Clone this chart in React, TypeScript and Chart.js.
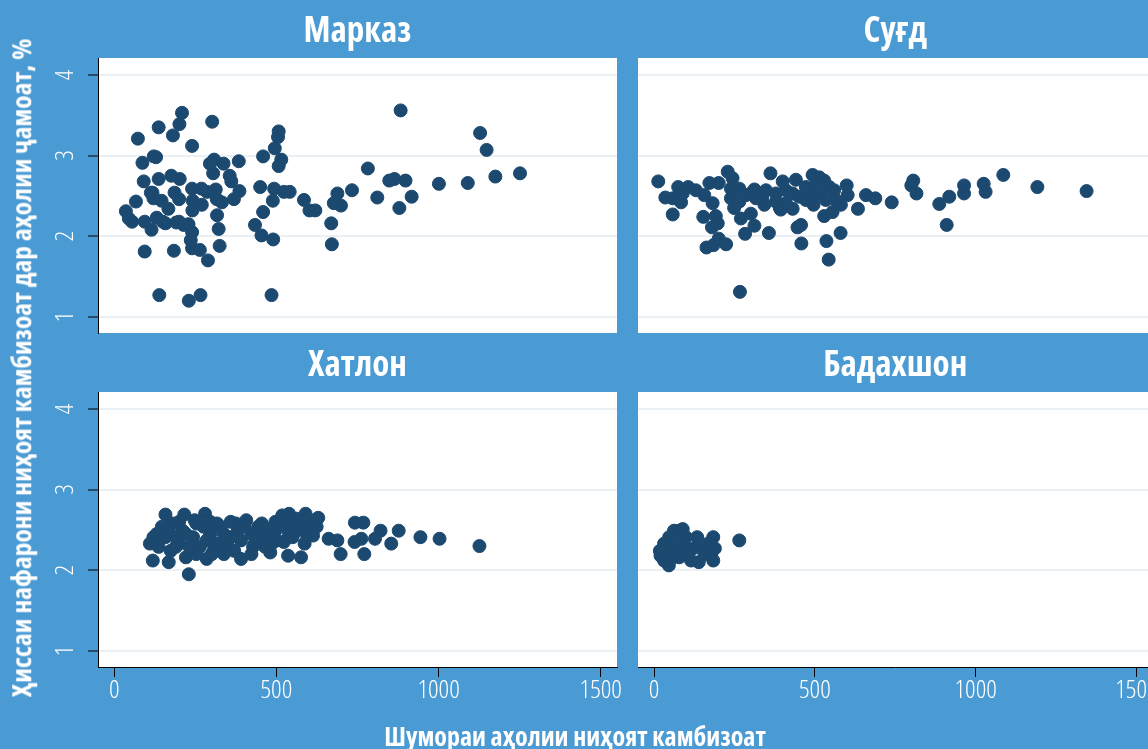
import React, { useEffect, useRef } from 'react';
import { Chart, registerables } from 'chart.js';

Chart.register(...registerables);

// ---------- data ----------
const panelTitles = ['Марказ', 'Суғд', 'Хатлон', 'Бадахшон'];
const xAxisTitle = 'Шумораи аҳолии ниҳоят камбизоат';
const yAxisTitle = 'Ҳиссаи нафарони ниҳоят камбизоат дар аҳолии ҷамоат, %';
const xTickValues = [0, 500, 1000, 1500];
const yTickValues = [1, 2, 3, 4];

const markazX = [883, 1128, 1148, 1175, 1251, 1090, 1001, 917, 879, 848, 864, 898, 811, 782, 733, 688, 699, 677, 669, 671, 585, 602, 620, 541, 523, 507, 505, 495, 515, 507, 459, 493, 489, 450, 459, 434, 454, 490, 485, 384, 337, 302, 308, 295, 305, 356, 361, 386, 369, 332, 313, 316, 317, 322, 325, 289, 266, 230, 139, 94, 184, 240, 264, 240, 236, 229, 191, 158, 131, 115, 94, 55, 45, 36, 67, 73, 137, 201, 209, 181, 240, 87, 122, 129, 91, 137, 176, 202, 118, 121, 146, 167, 186, 200, 240, 242, 241, 270, 269, 286, 150, 200, 214, 113];
const markazY = [3.56, 3.28, 3.07, 2.74, 2.78, 2.66, 2.65, 2.49, 2.35, 2.69, 2.71, 2.69, 2.48, 2.84, 2.57, 2.53, 2.38, 2.41, 2.16, 1.9, 2.45, 2.32, 2.32, 2.55, 2.55, 3.3, 3.23, 3.09, 2.95, 2.87, 2.99, 2.59, 2.44, 2.61, 2.3, 2.14, 2.01, 1.96, 1.27, 2.93, 2.9, 3.42, 2.95, 2.9, 2.78, 2.75, 2.68, 2.56, 2.46, 2.42, 2.58, 2.46, 2.26, 2.09, 1.88, 1.7, 1.27, 1.2, 1.27, 1.81, 1.82, 1.85, 1.83, 2.05, 1.95, 2.15, 2.17, 2.16, 2.23, 2.08, 2.18, 2.18, 2.22, 2.31, 2.43, 3.21, 3.35, 3.39, 3.53, 3.25, 3.12, 2.91, 2.99, 2.98, 2.68, 2.71, 2.75, 2.71, 2.54, 2.47, 2.44, 2.34, 2.54, 2.46, 2.59, 2.44, 2.32, 2.39, 2.59, 2.55, 2.18, 2.18, 2.14, 2.54];

const sughdX = [13, 35, 58, 75, 84, 106, 58, 130, 156, 172, 201, 182, 153, 192, 180, 198, 201, 163, 185, 224, 229, 244, 239, 239, 249, 265, 270, 301, 312, 283, 267, 286, 312, 317, 343, 348, 362, 357, 379, 391, 400, 410, 431, 441, 451, 446, 457, 458, 472, 493, 496, 503, 514, 529, 534, 529, 555, 560, 581, 599, 602, 580, 536, 543, 634, 659, 688, 739, 806, 800, 816, 887, 918, 910, 964, 964, 1025, 1031, 1086, 1192, 1345, 337, 379, 431, 472, 514, 545, 410, 265, 89, 301, 394, 488, 565];
const sughdY = [2.68, 2.48, 2.27, 2.61, 2.42, 2.61, 2.47, 2.57, 2.51, 2.66, 2.66, 2.41, 2.24, 2.25, 2.11, 2.16, 1.97, 1.86, 1.89, 1.9, 2.8, 2.72, 2.59, 2.47, 2.35, 2.59, 2.22, 2.28, 2.13, 2.03, 1.31, 2.51, 2.58, 2.47, 2.39, 2.57, 2.78, 2.04, 2.53, 2.35, 2.68, 2.57, 2.34, 2.7, 2.49, 2.11, 2.14, 1.91, 2.45, 2.76, 2.39, 2.63, 2.53, 2.69, 2.45, 2.25, 2.3, 2.57, 2.39, 2.63, 2.51, 2.04, 1.94, 1.71, 2.34, 2.51, 2.47, 2.42, 2.69, 2.63, 2.53, 2.4, 2.49, 2.14, 2.63, 2.53, 2.65, 2.55, 2.76, 2.61, 2.56, 2.49, 2.43, 2.53, 2.61, 2.73, 2.61, 2.41, 2.43, 2.53, 2.53, 2.33, 2.49, 2.45];

const khatlonX = [1126, 1003, 944, 877, 854, 821, 804, 771, 768, 742, 762, 741, 698, 688, 661, 629, 590, 624, 613, 576, 536, 587, 561, 539, 523, 539, 497, 481, 465, 444, 423, 391, 407, 359, 338, 317, 285, 280, 216, 158, 119, 168, 230, 110, 131, 221, 497, 465, 158, 179, 200, 211, 243, 253, 264, 296, 317, 338, 349, 381, 391, 423, 433, 444, 147, 190, 232, 275, 306, 370, 137, 174, 248, 470, 502, 561, 582, 603, 529, 550, 402, 359, 285, 221, 168, 121, 190, 327, 455, 518, 539, 592, 619, 486, 375, 296, 200, 253, 428, 301];
const khatlonY = [2.3, 2.39, 2.41, 2.49, 2.33, 2.49, 2.39, 2.2, 2.59, 2.59, 2.39, 2.35, 2.2, 2.37, 2.39, 2.65, 2.7, 2.54, 2.43, 2.16, 2.18, 2.33, 2.64, 2.62, 2.35, 2.45, 2.6, 2.22, 2.41, 2.54, 2.2, 2.14, 2.62, 2.6, 2.2, 2.58, 2.14, 2.7, 2.69, 2.69, 2.12, 2.1, 1.95, 2.33, 2.45, 2.16, 2.49, 2.29, 2.41, 2.58, 2.33, 2.49, 2.41, 2.58, 2.29, 2.45, 2.33, 2.45, 2.33, 2.49, 2.37, 2.45, 2.33, 2.41, 2.54, 2.29, 2.29, 2.54, 2.24, 2.24, 2.29, 2.24, 2.62, 2.51, 2.37, 2.49, 2.58, 2.54, 2.54, 2.41, 2.54, 2.41, 2.37, 2.45, 2.49, 2.41, 2.41, 2.54, 2.58, 2.68, 2.7, 2.45, 2.62, 2.33, 2.58, 2.6, 2.6, 2.2, 2.29, 2.2];

const badakhshonX = [265, 184, 184, 189, 134, 139, 115, 121, 78, 62, 47, 78, 46, 31, 18, 41, 89, 68, 99, 157, 168, 31, 57, 104, 141, 52, 89, 20, 73, 178];
const badakhshonY = [2.37, 2.41, 2.12, 2.27, 2.41, 2.1, 2.12, 2.27, 2.49, 2.49, 2.41, 2.16, 2.06, 2.12, 2.24, 2.29, 2.33, 2.22, 2.41, 2.2, 2.33, 2.33, 2.37, 2.2, 2.29, 2.14, 2.51, 2.18, 2.29, 2.2];

const seriesX = [markazX, sughdX, khatlonX, badakhshonX];
const seriesY = [markazY, sughdY, khatlonY, badakhshonY];

// ---------- style / layout ----------
const W = 1160;
const H = 749;
const BG = '#4a9ad4';
const DOT = '#1c4970';
const GRID = '#eaf0f4';
const FAMILY = "'Open Sans', 'DejaVu Sans', sans-serif";

type Panel = { left: boolean; bottom: boolean; pad: { left: number; top: number; right: number; bottom: number } };
const panels: Panel[] = [
  { left: true, bottom: false, pad: { left: 0, top: 0, right: W - 617, bottom: H - 333 } },
  { left: false, bottom: false, pad: { left: 638, top: 0, right: W - 1157, bottom: H - 333 } },
  { left: true, bottom: true, pad: { left: 0, top: 334, right: W - 617, bottom: H - 667 - 40 } },
  { left: false, bottom: true, pad: { left: 638, top: 334, right: W - 1157, bottom: H - 667 - 40 } },
];

const whiteArea = {
  id: 'whiteArea',
  beforeDraw(chart: any) {
    const { ctx, chartArea: a } = chart;
    ctx.save();
    ctx.fillStyle = '#ffffff';
    ctx.fillRect(a.left, a.top, a.right - a.left, a.bottom - a.top);
    ctx.restore();
  },
};

function makeChart(canvas: HTMLCanvasElement, i: number) {
  const p = panels[i];
  const data = seriesX[i].map((x, k) => ({ x, y: seriesY[i][k] }));
  return new Chart(canvas, {
    type: 'scatter',
    data: {
      datasets: [
        {
          data,
          backgroundColor: DOT,
          borderColor: DOT,
          borderWidth: 1,
          pointRadius: 6.5,
          pointHoverRadius: 6.5,
        },
      ],
    },
    plugins: [whiteArea],
    options: {
      responsive: false,
      animation: false,
      devicePixelRatio: 1,
      events: [],
      layout: { padding: p.pad },
      plugins: {
        legend: { display: false },
        tooltip: { enabled: false },
        title: {
          display: true,
          text: panelTitles[i],
          fullSize: false,
          color: '#ffffff',
          font: { family: FAMILY, size: 35, weight: 'bold condensed', lineHeight: 1.2 },
          padding: { top: 11, bottom: 5 },
        },
      },
      scales: {
        x: {
          type: 'linear',
          min: -50,
          max: 1550,
          display: p.bottom,
          afterBuildTicks: (s: any) => {
            s.ticks = xTickValues.map((v) => ({ value: v }));
          },
          afterFit: (s: any) => {
            s.height = p.bottom ? 40 : 0;
          },
          grid: { display: true, drawOnChartArea: false, drawTicks: true, tickLength: 10, tickColor: '#000000', tickWidth: 1 },
          border: { display: true, color: '#000000', width: 1 },
          ticks: {
            color: '#ffffff',
            padding: 1,
            maxRotation: 0,
            minRotation: 0,
            callback: (v: any) => String(v),
            font: { family: FAMILY, size: 26, weight: '300 condensed', lineHeight: 1 },
          },
        },
        y: {
          type: 'linear',
          min: 0.8,
          max: 4.21,
          display: true,
          afterBuildTicks: (s: any) => {
            s.ticks = yTickValues.map((v) => ({ value: v }));
          },
          afterFit: (s: any) => {
            s.width = p.left ? 98 : 0;
          },
          grid: {
            display: true,
            drawOnChartArea: true,
            color: GRID,
            lineWidth: 2,
            drawTicks: p.left,
            tickLength: 10,
            tickColor: '#000000',
            tickWidth: 1,
          },
          border: { display: p.left, color: '#000000', width: 1 },
          ticks: {
            display: p.left,
            color: '#ffffff',
            minRotation: 90,
            maxRotation: 90,
            crossAlign: 'center',
            padding: 17,
            callback: (v: any) => String(v),
            font: { family: FAMILY, size: 26, weight: '300 condensed', lineHeight: 1 },
          },
        },
      },
    } as any,
  });
}

export default function App() {
  const refs = [useRef<HTMLCanvasElement>(null), useRef<HTMLCanvasElement>(null), useRef<HTMLCanvasElement>(null), useRef<HTMLCanvasElement>(null)];

  useEffect(() => {
    const charts = refs.map((r, i) => (r.current ? makeChart(r.current, i) : null));
    return () => {
      charts.forEach((c) => c && c.destroy());
    };
  }, []);

  const titleStyle: React.CSSProperties = {
    position: 'absolute',
    color: '#ffffff',
    fontFamily: FAMILY,
    fontWeight: 700,
    fontStretch: 'condensed',
    whiteSpace: 'nowrap',
    lineHeight: 1,
  };

  return (
    <div
      style={{
        position: 'fixed',
        left: 0,
        top: 0,
        width: 1148,
        height: 749,
        overflow: 'hidden',
        background: BG,
      }}
    >
      {refs.map((r, i) => (
        <canvas
          key={i}
          ref={r}
          width={W}
          height={H}
          style={{ position: 'absolute', left: 0, top: 0, width: W, height: H }}
        />
      ))}
      <div style={{ ...titleStyle, fontSize: 26, left: 575, top: 736, transform: 'translate(-50%, -50%)' }}>{xAxisTitle}</div>
      <div style={{ ...titleStyle, fontSize: 27.5, left: 21, top: 367.5, transform: 'translate(-50%, -50%) rotate(-90deg)' }}>{yAxisTitle}</div>
    </div>
  );
}
